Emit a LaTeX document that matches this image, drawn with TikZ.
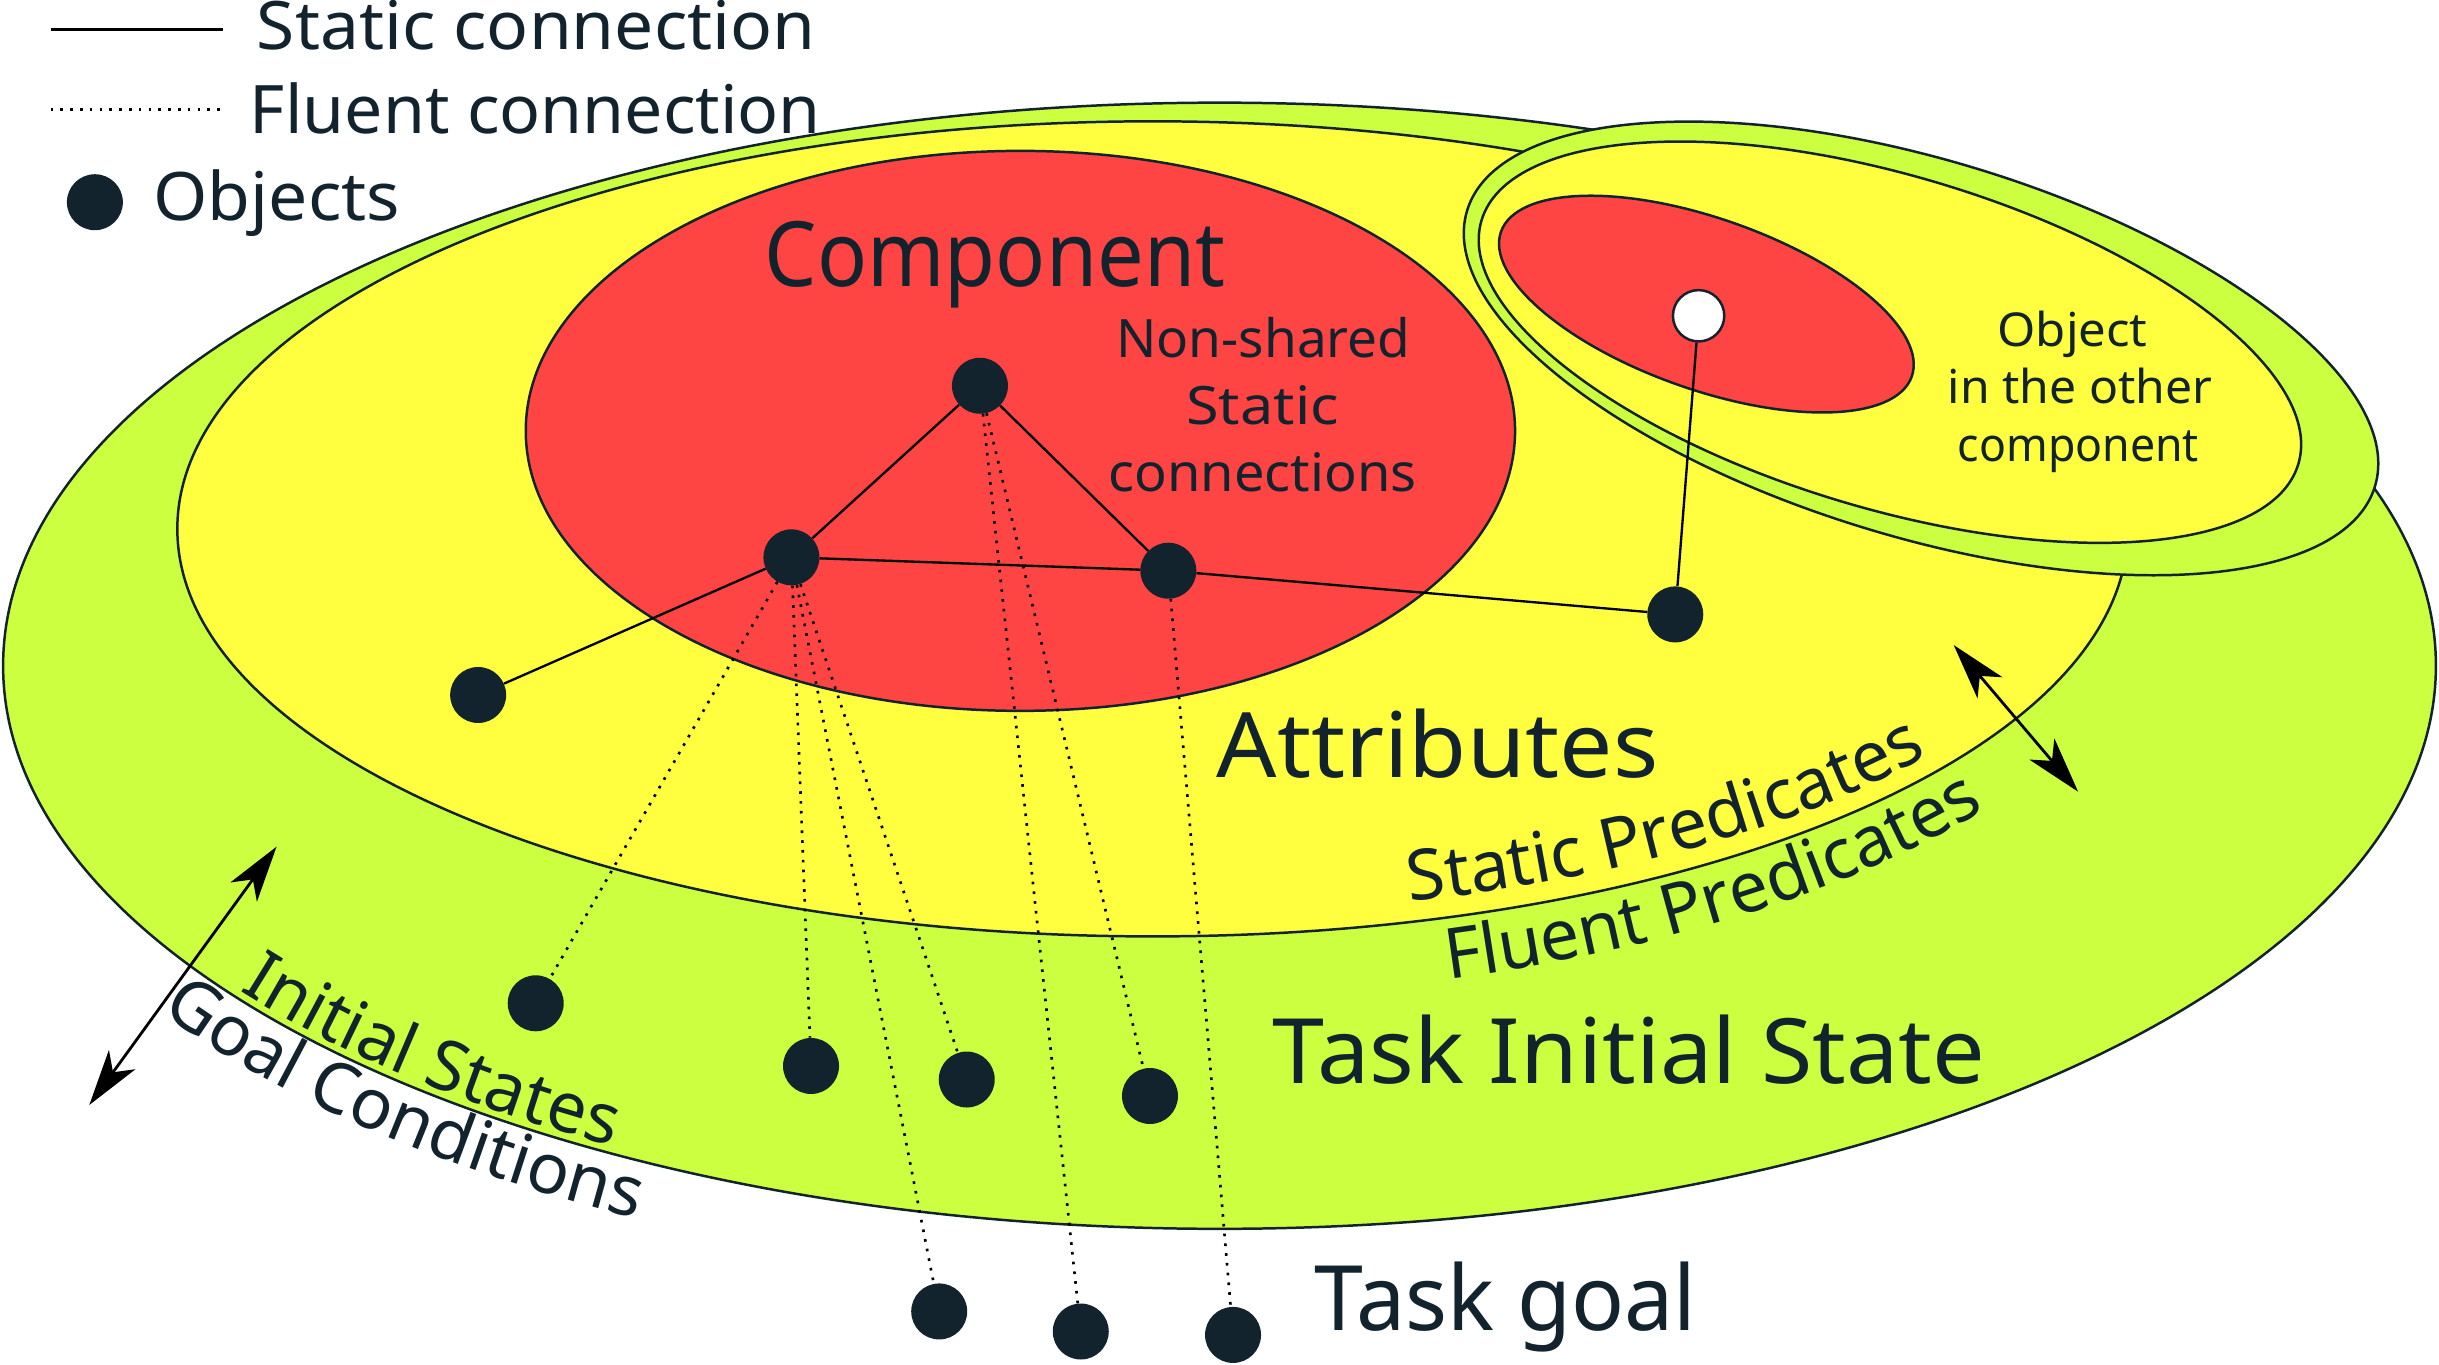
\documentclass[tikz,border=0pt]{standalone}
\usepackage{fontspec}
\setmainfont{Noto Sans}
\usepackage{graphicx}
\usetikzlibrary{arrows.meta,decorations.text}
\definecolor{ink}{RGB}{18,35,46}
\definecolor{lime}{RGB}{204,255,64}
\definecolor{yel}{RGB}{255,255,64}
\definecolor{redc}{RGB}{255,68,68}
\newcommand\curvefont{\fontsize{45}{54}\selectfont\color{ink}}
\newcommand\fitw[3]{\resizebox{#1pt}{\height}{\fontsize{#2}{#2}\selectfont #3}}
\begin{document}
\begin{tikzpicture}[x=1pt,y=-1pt,
  region/.style={draw=ink, line width=1.6pt},
  obj/.style={circle, fill=ink, inner sep=0pt, minimum size=36pt},
  hollow/.style={circle, fill=white, draw=ink, line width=1.6pt, inner sep=0pt, minimum size=33pt},
  static/.style={draw=black, line width=1.5pt},
  fluent/.style={draw=black, line width=1.7pt, dash pattern=on 1.7pt off 4.6pt},
  lbl/.style={inner sep=0pt, anchor=base west, text=ink},
  dbl/.style={black, line width=1.8pt, {Stealth[length=36pt,width=21pt,inset=10pt]}-{Stealth[length=36pt,width=21pt,inset=10pt]}},
  curved/.style={decorate, decoration={text along path, text align=left}}
]
\useasboundingbox (0,0) rectangle (1568,877);

% main regions
\path[region, fill=lime] (784,428) ellipse[x radius=782, y radius=362];
\path[region, fill=yel] (741,340) ellipse[x radius=627, y radius=262];
\path[region, fill=redc] (656,277) ellipse[x radius=318, y radius=180];

% curved labels
\path[curved, decoration={text={|\curvefont|Static Predicates}}]
  (906.4,579.8) arc[start angle=74.4, end angle=5, x radius=615, y radius=249];
\path[curved, decoration={text={|\curvefont|Fluent Predicates}}]
  (931,629.5) arc[start angle=73.45, end angle=5, x radius=667, y radius=302];
\path[curved, decoration={text={|\curvefont|Initial States}}]
  (154,637) arc[start angle=144.17, end angle=70, x radius=777, y radius=357];
\path[curved, decoration={text={|\curvefont|Goal Conditions}}]
  (103,650.8) arc[start angle=146.15, end angle=70, x radius=818, y radius=398];

% other component group
\begin{scope}[shift={(1235,224)}, rotate=-16.9]
  \path[region, fill=lime] (0,0) ellipse[x radius=305, y radius=121];
\end{scope}
\begin{scope}[shift={(1215,220)}, rotate=-16.6]
  \path[region, fill=yel] (0,0) ellipse[x radius=274, y radius=107];
\end{scope}
\begin{scope}[shift={(1097,195.5)}, rotate=-19.4]
  \path[region, fill=redc] (0,0) ellipse[x radius=140, y radius=55];
\end{scope}

% legend
\coordinate (s1) at (32.5,18.9); \coordinate (s2) at (143.2,18.9);
\coordinate (f1) at (32.5,70.3); \coordinate (f2) at (143.2,70.3);
\draw[static, line width=2.1pt] (s1) -- (s2);
\draw[fluent] (f1) -- (f2);
\node[obj] (lobj) at (61,130) {};
\node[lbl] (tsc) at (165,32.1) {\fitw{359}{43}{Static connection}};
\node[lbl] (tfc) at (160.5,85.7) {\fitw{367}{43}{Fluent connection}};
\node[lbl] (tob) at (98.5,141.9) {\fitw{158.5}{43}{Objects}};

% labels
\node[lbl] (tcomp) at (491.5,184.5) {\fitw{296}{58}{Component}};
\node[lbl] (tns1) at (717.5,230) {\fitw{189}{34}{Non-shared}};
\node[lbl] (tns2) at (762.5,273) {\fitw{98}{34}{Static}};
\node[lbl] (tns3) at (712.5,316) {\fitw{198}{34}{connections}};
\node[lbl] (tattr) at (782,499.7) {\fitw{284}{58}{Attributes}};
\node[lbl] (ttis) at (818,696.5) {\fitw{458}{58}{Task Initial State}};
\node[lbl] (ttg) at (845,855.5) {\fitw{245.5}{58}{Task goal}};
\node[lbl] (to1) at (1284,222.9) {\fitw{96.5}{30}{Object}};
\node[lbl] (to2) at (1252,259.7) {\fitw{170}{30}{in the other}};
\node[lbl] (to3) at (1258.5,296.8) {\fitw{155}{30}{component}};

% objects
\node[obj] (A) at (630,248) {};
\node[obj] (B) at (508.8,358.3) {};
\node[obj] (C) at (751.1,366.9) {};
\node[obj] (D) at (307.4,446.8) {};
\node[obj] (E) at (1077,395) {};
\node[hollow] (W) at (1092,203) {};
\node[obj] (F) at (344.4,645) {};
\node[obj] (G) at (521.4,685.3) {};
\node[obj] (H) at (621.5,694) {};
\node[obj] (I) at (739.3,704.6) {};
\node[obj] (J) at (603.8,843.1) {};
\node[obj] (K) at (694.8,856) {};
\node[obj] (L) at (792.7,858.2) {};

% static connections
\draw[static] (A) -- (B);
\draw[static] (A) -- (C);
\draw[static] (B) -- (C);
\draw[static] (C) -- (E);
\draw[static] (B) -- (D);
\draw[static] (E) -- (W);

% fluent connections
\draw[fluent] (B) -- (F);
\draw[fluent] (B) -- (G);
\draw[fluent] (B) -- (J);
\draw[fluent] (B) -- (H);
\draw[fluent] (A) -- (K);
\draw[fluent] (A) -- (I);
\draw[fluent] (C) -- (L);

% double arrows
\coordinate (a1) at (177.8,544.3); \coordinate (a2) at (57.4,710.4);
\coordinate (b1) at (1256,414.7); \coordinate (b2) at (1336,509);
\draw[dbl] (a1) -- (a2);
\draw[dbl] (b1) -- (b2);
\end{tikzpicture}
\end{document}
